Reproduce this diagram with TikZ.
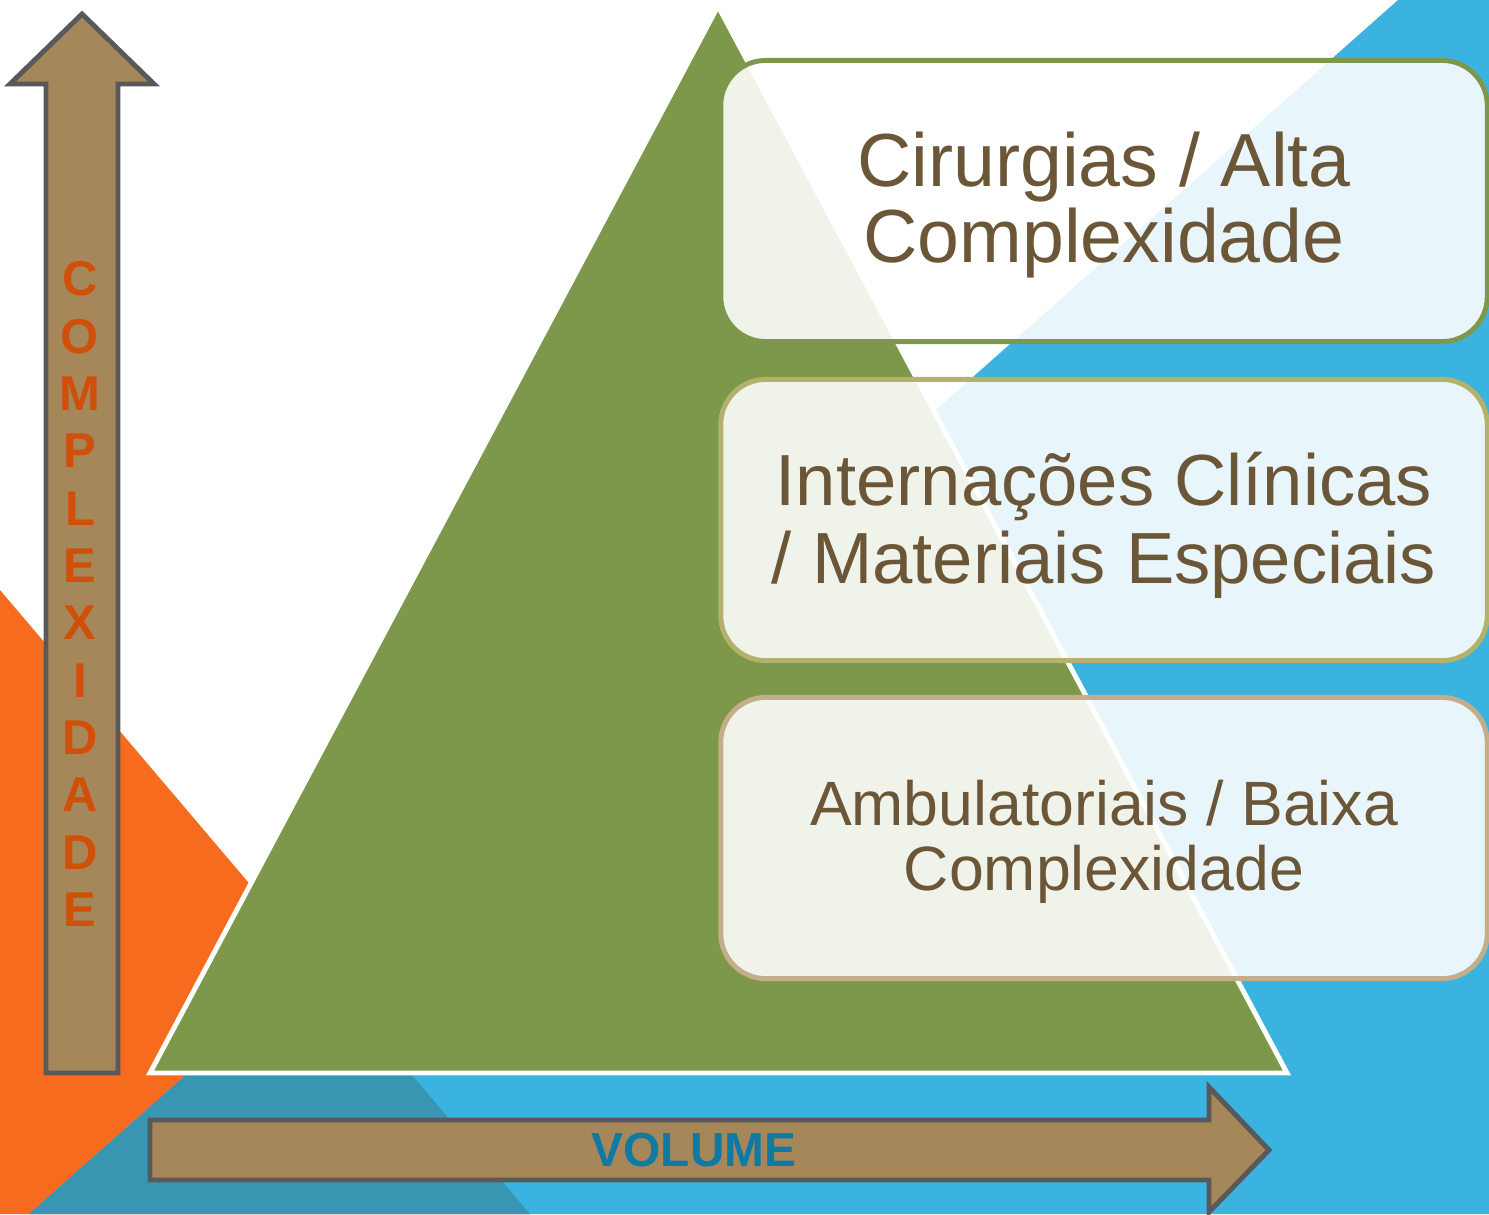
\documentclass[tikz,border=0pt]{standalone}
\usepackage{fontspec}
\setmainfont{Liberation Sans}
\usetikzlibrary{positioning}
\definecolor{bgorange}{HTML}{F76B1E}
\definecolor{bgblue}{HTML}{3BB3E0}
\definecolor{bgteal}{HTML}{3996B3}
\definecolor{pyramidgreen}{HTML}{7D984B}
\definecolor{axisfill}{HTML}{A5875A}
\definecolor{axisedge}{HTML}{58595B}
\definecolor{tiertext}{HTML}{6B5638}
\definecolor{complexorange}{HTML}{D0500A}
\definecolor{volumeblue}{HTML}{0F7AA3}
\definecolor{tierolive}{HTML}{B4B26A}
\definecolor{tiertan}{HTML}{C4AD8B}

\begin{document}
\begin{tikzpicture}[
    x=0.01cm, y=-0.01cm,
    tier/.style={rectangle, rounded corners=0.45cm, draw=#1, line width=1.4pt,
                 fill=white, fill opacity=0.885, text opacity=1,
                 minimum width=7.66cm, minimum height=2.81cm, align=center,
                 text=tiertext, inner sep=0pt},
    axis/.style={fill=axisfill, draw=axisedge, line width=1.4pt, line join=miter},
    axislabel/.style={font=\bfseries, inner sep=0pt, align=center},
]
\useasboundingbox (0,0) rectangle (1489,1214);
\clip (0,0) rectangle (1489,1214);

% Background
\fill[white] (0,0) rectangle (1489,1214);
\fill[bgorange] (0,590) -- (530,1214) -- (0,1214) -- cycle;
\fill[bgblue] (1398,0) -- (1489,0) -- (1489,1214) -- (29,1214) -- cycle;
\coordinate (overlap) at (intersection of 0,590--530,1214 and 1398,0--29,1214);
\fill[bgteal] (overlap) -- (530,1214) -- (29,1214) -- cycle;

% Pyramid
\coordinate (apex) at (718,6);
\coordinate (baseL) at (150,1073);
\coordinate (baseR) at (1287,1073);
\draw[white, line width=1.4pt, fill=pyramidgreen, line join=miter]
    (apex) -- (baseR) -- (baseL) -- cycle;

% Axes
\draw[axis] (46,1073) -- (46,84) -- (10,84) -- (82,14) -- (154,84)
    -- (118,84) -- (118,1073) -- cycle;
\draw[axis] (150,1120) -- (1209,1120) -- (1209,1087) -- (1269,1150)
    -- (1209,1212) -- (1209,1180) -- (150,1180) -- cycle;
\node[axislabel, text=complexorange, font=\fontsize{13.9}{16.3}\selectfont\bfseries]
    (complexidade) at (80,594) {C\\O\\M\\P\\L\\E\\X\\I\\D\\A\\D\\E};
\node[axislabel, text=volumeblue, font=\fontsize{13.6}{14}\selectfont\bfseries]
    (volume) at (694,1150) {VOLUME};

% Tiers
\node[tier=pyramidgreen, font=\fontsize{21.4}{21.8}\selectfont] (alta) at (1104,201)
    {\rule{0pt}{17.8pt}Cirurgias / Alta\\Complexidade};
\node[tier=tierolive, font=\fontsize{20.6}{22.4}\selectfont] (internacoes) at (1104,520)
    {\rule{0pt}{18.2pt}Internações Clínicas\\/ Materiais Especiais};
\node[tier=tiertan, font=\fontsize{17.8}{18.4}\selectfont] (ambulatoriais) at (1104,838)
    {\rule{0pt}{15.2pt}Ambulatoriais / Baixa\\Complexidade};

\end{tikzpicture}
\end{document}
